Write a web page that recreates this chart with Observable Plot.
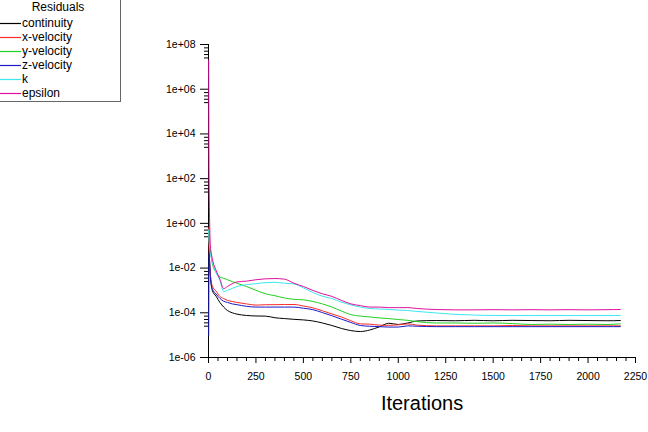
<!DOCTYPE html>
<html>
<head>
<meta charset="utf-8">
<script src="https://cdn.jsdelivr.net/npm/d3@7"></script>
<script src="https://cdn.jsdelivr.net/npm/@observablehq/plot@0.6"></script>
<style>
  html, body { margin: 0; padding: 0; background: #fff; }
  #wrap { position: relative; width: 648px; height: 432px; overflow: hidden; }
  #legend { position: absolute; left: -1px; top: -1px; width: 120px; height: 101px;
            border: 1px solid #666; background: #fff;
            font-family: "Liberation Sans", Arial, sans-serif; font-size: 12px; color: #000; }
  #legend .title { position: absolute; left: 0; top: 0; width: 116px; text-align: center; line-height: 14px; }
  #legend .row { position: absolute; left: 0; height: 14px; line-height: 14px; white-space: nowrap; }
  #legend svg { position: absolute; left: 0; top: 0; }
  #legend .lab { position: absolute; left: 22px; top: 0; }
</style>
</head>
<body>
<div id="wrap"></div>
<script>
// ---- data ----
const iterations = [1, 3, 10, 20, 40, 60, 80, 100, 125, 150, 200, 250, 300, 350, 400, 450, 500, 550, 600, 650,
  700, 750, 800, 850, 900, 950, 1000, 1050, 1100, 1200, 1300, 1400, 1500, 1600, 1700, 1800, 1900, 2000, 2100, 2170];

const continuity = [1.0, 1.0e-1, 5.0e-3, 1.0e-3, 5.5e-4, 2.9e-4, 1.8e-4, 1.26e-4, 1.0e-4, 8.7e-5, 7.6e-5, 7.2e-5, 7.1e-5,
  6.0e-5, 5.5e-5, 5.1e-5, 4.8e-5, 4.3e-5, 3.5e-5, 2.7e-5, 2.0e-5, 1.6e-5, 1.45e-5, 1.7e-5, 2.35e-5, 3.4e-5, 3.0e-5,
  3.5e-5, 4.3e-5, 4.5e-5, 4.4e-5, 4.6e-5, 4.4e-5, 4.6e-5, 4.5e-5, 4.4e-5, 4.6e-5, 4.5e-5, 4.4e-5, 4.5e-5];

const xVelocity = [6.3e-1, 1.0e-1, 5.0e-3, 1.6e-3, 9.3e-4, 5.4e-4, 4.3e-4, 3.6e-4, 3.2e-4, 2.9e-4, 2.5e-4, 2.2e-4, 2.3e-4,
  2.3e-4, 2.35e-4, 2.35e-4, 2.0e-4, 1.66e-4, 1.23e-4, 8.9e-5, 6.5e-5, 4.4e-5, 3.2e-5, 3.1e-5, 2.8e-5, 2.75e-5, 2.9e-5,
  3.2e-5, 2.8e-5, 2.6e-5, 2.6e-5, 2.6e-5, 2.6e-5, 2.7e-5, 2.6e-5, 2.6e-5, 2.6e-5, 2.6e-5, 2.6e-5, 2.6e-5];

const yVelocity = [5.0e-1, 2.5e-1, 6.3e-2, 1.6e-2, 6.3e-3, 4.0e-3, 3.5e-3, 3.0e-3, 2.5e-3, 2.1e-3, 1.5e-3, 1.02e-3, 7.1e-4,
  5.8e-4, 4.6e-4, 4.0e-4, 3.8e-4, 3.2e-4, 2.5e-4, 1.8e-4, 1.2e-4, 8.3e-5, 7.1e-5, 6.5e-5, 5.9e-5, 5.5e-5, 5.0e-5,
  4.6e-5, 4.0e-5, 3.5e-5, 3.5e-5, 3.4e-5, 3.5e-5, 3.3e-5, 3.0e-5, 3.1e-5, 3.0e-5, 3.1e-5, 3.0e-5, 3.2e-5];

const zVelocity = [1.0e-5, 4.0e-2, 4.0e-3, 1.2e-3, 6.9e-4, 4.4e-4, 3.3e-4, 2.9e-4, 2.5e-4, 2.3e-4, 1.95e-4, 1.8e-4, 1.8e-4,
  1.8e-4, 1.8e-4, 1.8e-4, 1.6e-4, 1.38e-4, 1.02e-4, 7.4e-5, 5.2e-5, 3.7e-5, 2.7e-5, 2.5e-5, 2.4e-5, 2.3e-5, 2.3e-5,
  2.6e-5, 2.5e-5, 2.4e-5, 2.4e-5, 2.4e-5, 2.4e-5, 2.4e-5, 2.4e-5, 2.4e-5, 2.4e-5, 2.4e-5, 2.4e-5, 2.4e-5];

const kResidual = [5.0e-1, 1.6e-1, 5.0e-2, 2.0e-2, 6.3e-3, 2.8e-3, 8.9e-4, 1.0e-3, 1.23e-3, 1.5e-3, 1.8e-3, 2.0e-3, 2.24e-3,
  2.3e-3, 2.1e-3, 1.95e-3, 1.3e-3, 8.1e-4, 5.5e-4, 4.3e-4, 3.0e-4, 2.24e-4, 1.8e-4, 1.55e-4, 1.48e-4, 1.41e-4, 1.32e-4,
  1.26e-4, 1.15e-4, 9.8e-5, 8.5e-5, 7.9e-5, 7.6e-5, 7.6e-5, 7.6e-5, 7.6e-5, 7.6e-5, 7.6e-5, 7.6e-5, 7.6e-5];

const epsilon = [2.0e7, 1.0e2, 1.0e-1, 2.7e-2, 7.9e-3, 3.2e-3, 1.2e-3, 1.5e-3, 2.0e-3, 2.4e-3, 2.6e-3, 3.0e-3, 3.3e-3,
  3.4e-3, 3.2e-3, 2.1e-3, 1.5e-3, 1.0e-3, 7.1e-4, 5.4e-4, 3.6e-4, 2.5e-4, 2.1e-4, 1.8e-4, 1.8e-4, 1.7e-4, 1.7e-4,
  1.7e-4, 1.55e-4, 1.4e-4, 1.35e-4, 1.35e-4, 1.38e-4, 1.35e-4, 1.38e-4, 1.35e-4, 1.38e-4, 1.35e-4, 1.38e-4, 1.4e-4];

const seriesNames = ["continuity", "x-velocity", "y-velocity", "z-velocity", "k", "epsilon"];
const seriesColors = ["#000000", "#ff2a2a", "#22d022", "#1a1ac8", "#3ee6f0", "#e0109e"];
const seriesValues = [continuity, xVelocity, yVelocity, zVelocity, kResidual, epsilon];

const xTicks = [0, 250, 500, 750, 1000, 1250, 1500, 1750, 2000, 2250];
const xTickLabels = ["0", "250", "500", "750", "1000", "1250", "1500", "1750", "2000", "2250"];
const yTicks = [1e-6, 1e-4, 1e-2, 1e0, 1e2, 1e4, 1e6, 1e8];
const yTickLabels = ["1e-06", "1e-04", "1e-02", "1e+00", "1e+02", "1e+04", "1e+06", "1e+08"];
const legendTitle = "Residuals";
const xLabel = "Iterations";

// ---- build table ----
const rows = seriesNames.flatMap((name, s) =>
  iterations.map((it, i) => ({name, iter: it, value: seriesValues[s][i]})));

const xMinor = d3.range(0, 2251, 50).filter(v => !xTicks.includes(v));
const yMinor = yTicks.flatMap(t => [1, 2, 3, 4].map(k => t * Math.pow(10, -0.15 * k))).filter(v => v >= 1e-6);

const chart = Plot.plot({
  width: 648,
  height: 432,
  marginLeft: 208,
  marginRight: 13,
  marginTop: 44,
  marginBottom: 75,
  x: {domain: [0, 2250]},
  y: {type: "log", domain: [1e-6, 1e8]},
  color: {domain: seriesNames, range: seriesColors},
  style: {fontFamily: "'Liberation Sans', Arial, sans-serif", fontSize: "10.5px", color: "#000", background: "#fff"},
  marks: [
    Plot.axisY(yTicks, {tickSize: 8, tickPadding: 5, tickFormat: d => yTickLabels[yTicks.indexOf(d)], label: null, stroke: "#000"}),
    Plot.axisY(yMinor, {tickSize: 4, tickFormat: () => "", label: null, stroke: "#000"}),
    Plot.axisX(xTicks, {tickSize: 6, tickPadding: 9, tickFormat: d => xTickLabels[xTicks.indexOf(d)], label: null, stroke: "#000"}),
    Plot.axisX(xMinor, {tickSize: 4, tickFormat: () => "", label: null, stroke: "#000"}),
    Plot.ruleX([0], {stroke: "#000"}),
    Plot.ruleY([1e-6], {stroke: "#000"}),
    Plot.line(rows, {x: "iter", y: "value", z: "name", stroke: "name", strokeWidth: 1, curve: "monotone-x"}),
    Plot.text([xLabel], {frameAnchor: "bottom", dy: 52, fontSize: 20, fill: "#000"})
  ]
});

const wrap = document.getElementById("wrap");
wrap.appendChild(chart);

// ---- legend ----
const legend = d3.select(wrap).append("div").attr("id", "legend");
legend.append("div").attr("class", "title").text(legendTitle);
seriesNames.forEach((name, i) => {
  const row = legend.append("div").attr("class", "row").style("top", (16 + 14 * i) + "px").style("width", "118px");
  const sw = row.append("svg").attr("width", 22).attr("height", 14);
  sw.append("line").attr("x1", 0).attr("x2", 21).attr("y1", 7.5).attr("y2", 7.5)
    .attr("stroke", seriesColors[i]).attr("stroke-width", 1.2);
  row.append("div").attr("class", "lab").text(name);
});
</script>
</body>
</html>
